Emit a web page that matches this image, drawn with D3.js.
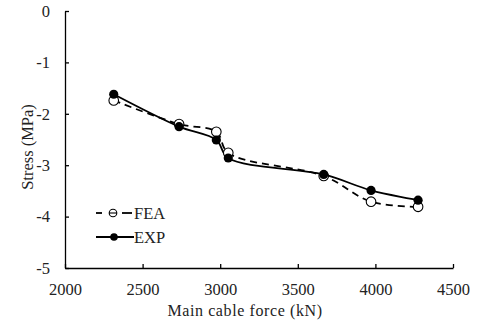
<!DOCTYPE html>
<html>
<head>
<meta charset="utf-8">
<script src="https://cdn.jsdelivr.net/npm/d3@7"></script>
<style>
  body { margin: 0; background: #fff; }
  svg text { font-family: "Liberation Serif", "Times New Roman", serif !important; fill: #222; }
</style>
</head>
<body>
<div id="chart"></div>
<script>
const force = [2314, 2735, 2975, 3052, 3667, 3972, 4275];
const feaStress = [-1.74, -2.20, -2.35, -2.76, -3.21, -3.71, -3.81];
const expStress = [-1.62, -2.25, -2.51, -2.86, -3.18, -3.49, -3.68];
const xTicks = [2000, 2500, 3000, 3500, 4000, 4500];
const yTicks = [0, -1, -2, -3, -4, -5];

const width = 478, height = 326;
const margin = {left: 65, right: 25, top: 11, bottom: 58};
const serif = "'Liberation Serif', 'Times New Roman', serif";
const fs = "16.5px";

const svg = d3.select("#chart").append("svg")
  .attr("width", width)
  .attr("height", height)
  .style("font-family", serif);

const x = d3.scaleLinear().domain([2000, 4500]).range([margin.left, width - margin.right]);
const y = d3.scaleLinear().domain([-5, 0]).range([height - margin.bottom, margin.top]);

// axes, ticks pointing inward
const xAxis = svg.append("g")
  .attr("transform", "translate(0," + y(-5) + ")")
  .call(d3.axisBottom(x).tickValues(xTicks).tickSizeInner(-4).tickSizeOuter(0).tickPadding(15)
    .tickFormat(d => String(d)));
const yAxis = svg.append("g")
  .attr("transform", "translate(" + x(2000) + ",0)")
  .call(d3.axisLeft(y).tickValues(yTicks).tickSizeInner(-4).tickSizeOuter(0).tickPadding(15)
    .tickFormat(d => String(d)));

[xAxis, yAxis].forEach(a => {
  a.attr("font-family", serif);
  a.select(".domain").attr("stroke", "#000").attr("stroke-width", 1.3);
  a.selectAll(".tick line").attr("stroke", "#000").attr("stroke-width", 1.3);
  a.selectAll(".tick text").style("font-size", "16.5px").attr("fill", "#222");
});

svg.append("text")
  .attr("x", 245)
  .attr("y", 316)
  .attr("text-anchor", "middle")
  .style("font-size", "16px")
  .style("letter-spacing", "0.6px")
  .text("Main cable force (kN)");

svg.append("text")
  .attr("transform", "translate(33,147) rotate(-90)")
  .attr("text-anchor", "middle")
  .style("font-size", fs)
  .text("Stress (MPa)");

const line = d3.line()
  .x(d => x(d[0]))
  .y(d => y(d[1]))
  .curve(d3.curveCatmullRom.alpha(0.5));

const feaData = force.map((f, i) => [f, feaStress[i]]);
const expData = force.map((f, i) => [f, expStress[i]]);

svg.append("path").datum(feaData)
  .attr("fill", "none").attr("stroke", "#000").attr("stroke-width", 1.8)
  .attr("stroke-dasharray", "7,5")
  .attr("d", line);

svg.append("path").datum(expData)
  .attr("fill", "none").attr("stroke", "#000").attr("stroke-width", 1.8)
  .attr("d", line);

svg.selectAll(".fea").data(feaData).enter().append("circle")
  .attr("class", "fea")
  .attr("cx", d => x(d[0])).attr("cy", d => y(d[1])).attr("r", 4.8)
  .attr("fill", "#fff").attr("stroke", "#000").attr("stroke-width", 1.1);

svg.selectAll(".exp").data(expData).enter().append("circle")
  .attr("class", "exp")
  .attr("cx", d => x(d[0])).attr("cy", d => y(d[1])).attr("r", 4.6)
  .attr("fill", "#000");

// legend
const legend = svg.append("g");
[[96, 102], [122, 132]].forEach(s => {
  legend.append("line").attr("x1", s[0]).attr("x2", s[1]).attr("y1", 213).attr("y2", 213)
    .attr("stroke", "#000").attr("stroke-width", 1.8);
});
legend.append("circle").attr("cx", 113).attr("cy", 213).attr("r", 3.8)
  .attr("fill", "#fff").attr("stroke", "#000").attr("stroke-width", 1.1);
legend.append("line").attr("x1", 109).attr("x2", 117).attr("y1", 213).attr("y2", 213)
  .attr("stroke", "#000").attr("stroke-width", 1.1);
legend.append("text").attr("x", 134).attr("y", 219).style("font-size", fs).text("FEA");

legend.append("line").attr("x1", 96).attr("x2", 134).attr("y1", 237).attr("y2", 237)
  .attr("stroke", "#000").attr("stroke-width", 1.8);
legend.append("circle").attr("cx", 114).attr("cy", 237).attr("r", 3.8).attr("fill", "#000");
legend.append("text").attr("x", 134).attr("y", 243).style("font-size", fs).text("EXP");
</script>
</body>
</html>
